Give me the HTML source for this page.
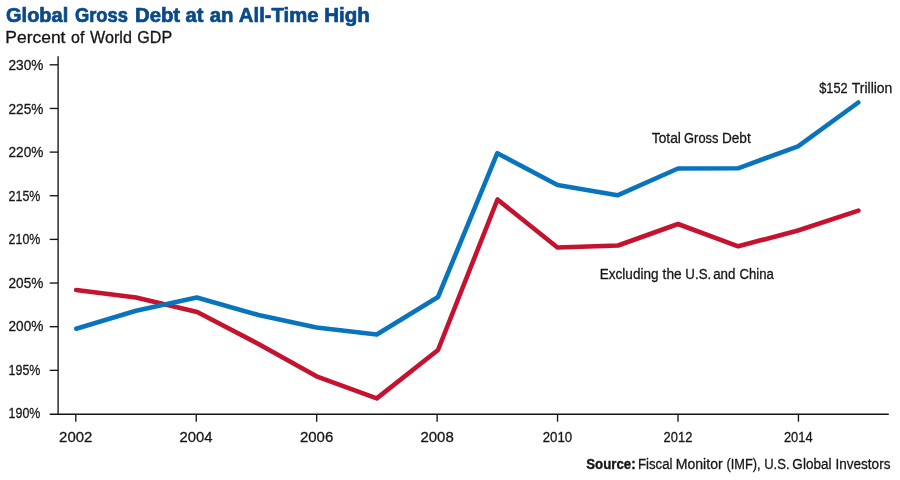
<!DOCTYPE html>
<html lang="en">
<head>
<meta charset="utf-8">
<title>Global Gross Debt at an All-Time High</title>
<style>
html,body{margin:0;padding:0;background:#fff;}
body{width:900px;height:480px;overflow:hidden;}
svg{display:block;}
text{font-family:"Liberation Sans",Arial,sans-serif;}
</style>
</head>
<body>
<svg width="900" height="480" viewBox="0 0 900 480">
<rect x="0" y="0" width="900" height="480" fill="#ffffff"/>
<text y="21.7" font-size="19.8" fill="#0b4a8a" font-weight="bold" stroke="#0b4a8a" stroke-width="0.7" stroke-linejoin="round"><tspan x="6.08" textLength="62.10" lengthAdjust="spacingAndGlyphs">Global</tspan> <tspan x="74.93" textLength="53.12" lengthAdjust="spacingAndGlyphs">Gross</tspan> <tspan x="135.03" textLength="45.07" lengthAdjust="spacingAndGlyphs">Debt</tspan> <tspan x="185.49" textLength="17.91" lengthAdjust="spacingAndGlyphs">at</tspan> <tspan x="209.68" textLength="23.80" lengthAdjust="spacingAndGlyphs">an</tspan> <tspan x="238.88" textLength="79.62" lengthAdjust="spacingAndGlyphs">All-Time</tspan> <tspan x="324.22" textLength="45.57" lengthAdjust="spacingAndGlyphs">High</tspan></text>
<text y="42.6" font-size="16.7" fill="#161616" font-weight="normal" stroke="#161616" stroke-width="0.3" stroke-linejoin="round"><tspan x="5.34" textLength="60.10" lengthAdjust="spacingAndGlyphs">Percent</tspan> <tspan x="71.00" textLength="13.35" lengthAdjust="spacingAndGlyphs">of</tspan> <tspan x="90.00" textLength="41.91" lengthAdjust="spacingAndGlyphs">World</tspan> <tspan x="137.24" textLength="34.93" lengthAdjust="spacingAndGlyphs">GDP</tspan></text>
<g stroke="#151515" stroke-width="1.35" fill="none">
<line x1="58.1" y1="56.3" x2="58.1" y2="414.9"/>
<line x1="49.7" y1="414.25" x2="888.8" y2="414.25"/>
<line x1="49.7" y1="64.80" x2="58.1" y2="64.80"/>
<line x1="49.7" y1="108.45" x2="58.1" y2="108.45"/>
<line x1="49.7" y1="152.10" x2="58.1" y2="152.10"/>
<line x1="49.7" y1="195.75" x2="58.1" y2="195.75"/>
<line x1="49.7" y1="239.40" x2="58.1" y2="239.40"/>
<line x1="49.7" y1="283.05" x2="58.1" y2="283.05"/>
<line x1="49.7" y1="326.70" x2="58.1" y2="326.70"/>
<line x1="49.7" y1="370.35" x2="58.1" y2="370.35"/>
<line x1="75.80" y1="414.25" x2="75.80" y2="421.7"/>
<line x1="196.24" y1="414.25" x2="196.24" y2="421.7"/>
<line x1="316.68" y1="414.25" x2="316.68" y2="421.7"/>
<line x1="437.12" y1="414.25" x2="437.12" y2="421.7"/>
<line x1="557.56" y1="414.25" x2="557.56" y2="421.7"/>
<line x1="678.00" y1="414.25" x2="678.00" y2="421.7"/>
<line x1="798.44" y1="414.25" x2="798.44" y2="421.7"/>
</g>
<text y="70.1" font-size="15.4" fill="#161616" font-weight="normal" stroke="#161616" stroke-width="0.3" stroke-linejoin="round"><tspan x="8.56" textLength="34.84" lengthAdjust="spacingAndGlyphs">230%</tspan></text>
<text y="113.64" font-size="15.4" fill="#161616" font-weight="normal" stroke="#161616" stroke-width="0.3" stroke-linejoin="round"><tspan x="8.56" textLength="34.84" lengthAdjust="spacingAndGlyphs">225%</tspan></text>
<text y="157.18" font-size="15.4" fill="#161616" font-weight="normal" stroke="#161616" stroke-width="0.3" stroke-linejoin="round"><tspan x="8.56" textLength="34.84" lengthAdjust="spacingAndGlyphs">220%</tspan></text>
<text y="200.72" font-size="15.4" fill="#161616" font-weight="normal" stroke="#161616" stroke-width="0.3" stroke-linejoin="round"><tspan x="8.62" textLength="31.75" lengthAdjust="spacingAndGlyphs">215%</tspan></text>
<text y="244.26" font-size="15.4" fill="#161616" font-weight="normal" stroke="#161616" stroke-width="0.3" stroke-linejoin="round"><tspan x="8.62" textLength="31.75" lengthAdjust="spacingAndGlyphs">210%</tspan></text>
<text y="287.8" font-size="15.4" fill="#161616" font-weight="normal" stroke="#161616" stroke-width="0.3" stroke-linejoin="round"><tspan x="8.56" textLength="34.84" lengthAdjust="spacingAndGlyphs">205%</tspan></text>
<text y="331.34" font-size="15.4" fill="#161616" font-weight="normal" stroke="#161616" stroke-width="0.3" stroke-linejoin="round"><tspan x="8.56" textLength="34.84" lengthAdjust="spacingAndGlyphs">200%</tspan></text>
<text y="374.88" font-size="15.4" fill="#161616" font-weight="normal" stroke="#161616" stroke-width="0.3" stroke-linejoin="round"><tspan x="8.62" textLength="31.75" lengthAdjust="spacingAndGlyphs">195%</tspan></text>
<text y="418.42" font-size="15.4" fill="#161616" font-weight="normal" stroke="#161616" stroke-width="0.3" stroke-linejoin="round"><tspan x="8.62" textLength="31.75" lengthAdjust="spacingAndGlyphs">190%</tspan></text>
<text y="442.0" font-size="15.5" fill="#161616" font-weight="normal" stroke="#161616" stroke-width="0.3" stroke-linejoin="round"><tspan x="59.10" textLength="33.31" lengthAdjust="spacingAndGlyphs">2002</tspan></text>
<text y="442.0" font-size="15.5" fill="#161616" font-weight="normal" stroke="#161616" stroke-width="0.3" stroke-linejoin="round"><tspan x="179.54" textLength="33.07" lengthAdjust="spacingAndGlyphs">2004</tspan></text>
<text y="442.0" font-size="15.5" fill="#161616" font-weight="normal" stroke="#161616" stroke-width="0.3" stroke-linejoin="round"><tspan x="299.98" textLength="33.31" lengthAdjust="spacingAndGlyphs">2006</tspan></text>
<text y="442.0" font-size="15.5" fill="#161616" font-weight="normal" stroke="#161616" stroke-width="0.3" stroke-linejoin="round"><tspan x="420.42" textLength="33.31" lengthAdjust="spacingAndGlyphs">2008</tspan></text>
<text y="442.0" font-size="15.5" fill="#161616" font-weight="normal" stroke="#161616" stroke-width="0.3" stroke-linejoin="round"><tspan x="542.64" textLength="29.55" lengthAdjust="spacingAndGlyphs">2010</tspan></text>
<text y="442.0" font-size="15.5" fill="#161616" font-weight="normal" stroke="#161616" stroke-width="0.3" stroke-linejoin="round"><tspan x="663.59" textLength="28.73" lengthAdjust="spacingAndGlyphs">2012</tspan></text>
<text y="442.0" font-size="15.5" fill="#161616" font-weight="normal" stroke="#161616" stroke-width="0.3" stroke-linejoin="round"><tspan x="783.93" textLength="28.73" lengthAdjust="spacingAndGlyphs">2014</tspan></text>
<polyline points="76.20,290.00 136.00,297.50 197.20,312.00 258.50,344.00 316.50,376.30 376.75,398.40 438.00,350.00 497.50,199.50 557.50,247.50 618.00,245.50 678.00,224.00 738.20,246.30 798.00,230.50 858.40,210.60" fill="none" stroke="#c4122f" stroke-width="4.6" stroke-linejoin="round" stroke-linecap="round"/>
<polyline points="76.20,328.70 136.00,310.80 196.75,297.50 258.50,315.00 316.50,327.50 376.75,334.50 438.00,297.00 497.30,153.20 557.50,185.00 617.50,195.30 678.00,168.50 738.00,168.30 798.00,146.30 858.30,102.50" fill="none" stroke="#0874be" stroke-width="4.6" stroke-linejoin="round" stroke-linecap="round"/>
<text y="143.2" font-size="15.1" fill="#161616" font-weight="normal" stroke="#161616" stroke-width="0.3" stroke-linejoin="round"><tspan x="651.78" textLength="29.12" lengthAdjust="spacingAndGlyphs">Total</tspan> <tspan x="684.10" textLength="34.30" lengthAdjust="spacingAndGlyphs">Gross</tspan> <tspan x="721.93" textLength="28.82" lengthAdjust="spacingAndGlyphs">Debt</tspan></text>
<text y="278.5" font-size="15.1" fill="#161616" font-weight="normal" stroke="#161616" stroke-width="0.3" stroke-linejoin="round"><tspan x="599.84" textLength="58.62" lengthAdjust="spacingAndGlyphs">Excluding</tspan> <tspan x="662.60" textLength="19.06" lengthAdjust="spacingAndGlyphs">the</tspan> <tspan x="685.37" textLength="25.83" lengthAdjust="spacingAndGlyphs">U.S.</tspan> <tspan x="713.18" textLength="22.27" lengthAdjust="spacingAndGlyphs">and</tspan> <tspan x="739.58" textLength="34.33" lengthAdjust="spacingAndGlyphs">China</tspan></text>
<text y="92.9" font-size="15.1" fill="#161616" font-weight="normal" stroke="#161616" stroke-width="0.3" stroke-linejoin="round"><tspan x="819.20" textLength="28.52" lengthAdjust="spacingAndGlyphs">$152</tspan> <tspan x="851.78" textLength="40.60" lengthAdjust="spacingAndGlyphs">Trillion</tspan></text>
<text y="468.6" font-size="15.3" fill="#161616" font-weight="bold" stroke="#161616" stroke-width="0.35" stroke-linejoin="round"><tspan x="586.19" textLength="49.41" lengthAdjust="spacingAndGlyphs">Source:</tspan></text>
<text y="468.6" font-size="15.3" fill="#161616" font-weight="normal" stroke="#161616" stroke-width="0.3" stroke-linejoin="round"><tspan x="637.96" textLength="34.61" lengthAdjust="spacingAndGlyphs">Fiscal</tspan> <tspan x="675.70" textLength="46.97" lengthAdjust="spacingAndGlyphs">Monitor</tspan> <tspan x="726.40" textLength="34.16" lengthAdjust="spacingAndGlyphs">(IMF),</tspan> <tspan x="764.18" textLength="25.40" lengthAdjust="spacingAndGlyphs">U.S.</tspan> <tspan x="792.37" textLength="39.13" lengthAdjust="spacingAndGlyphs">Global</tspan> <tspan x="835.54" textLength="54.88" lengthAdjust="spacingAndGlyphs">Investors</tspan></text>
</svg>
</body>
</html>
